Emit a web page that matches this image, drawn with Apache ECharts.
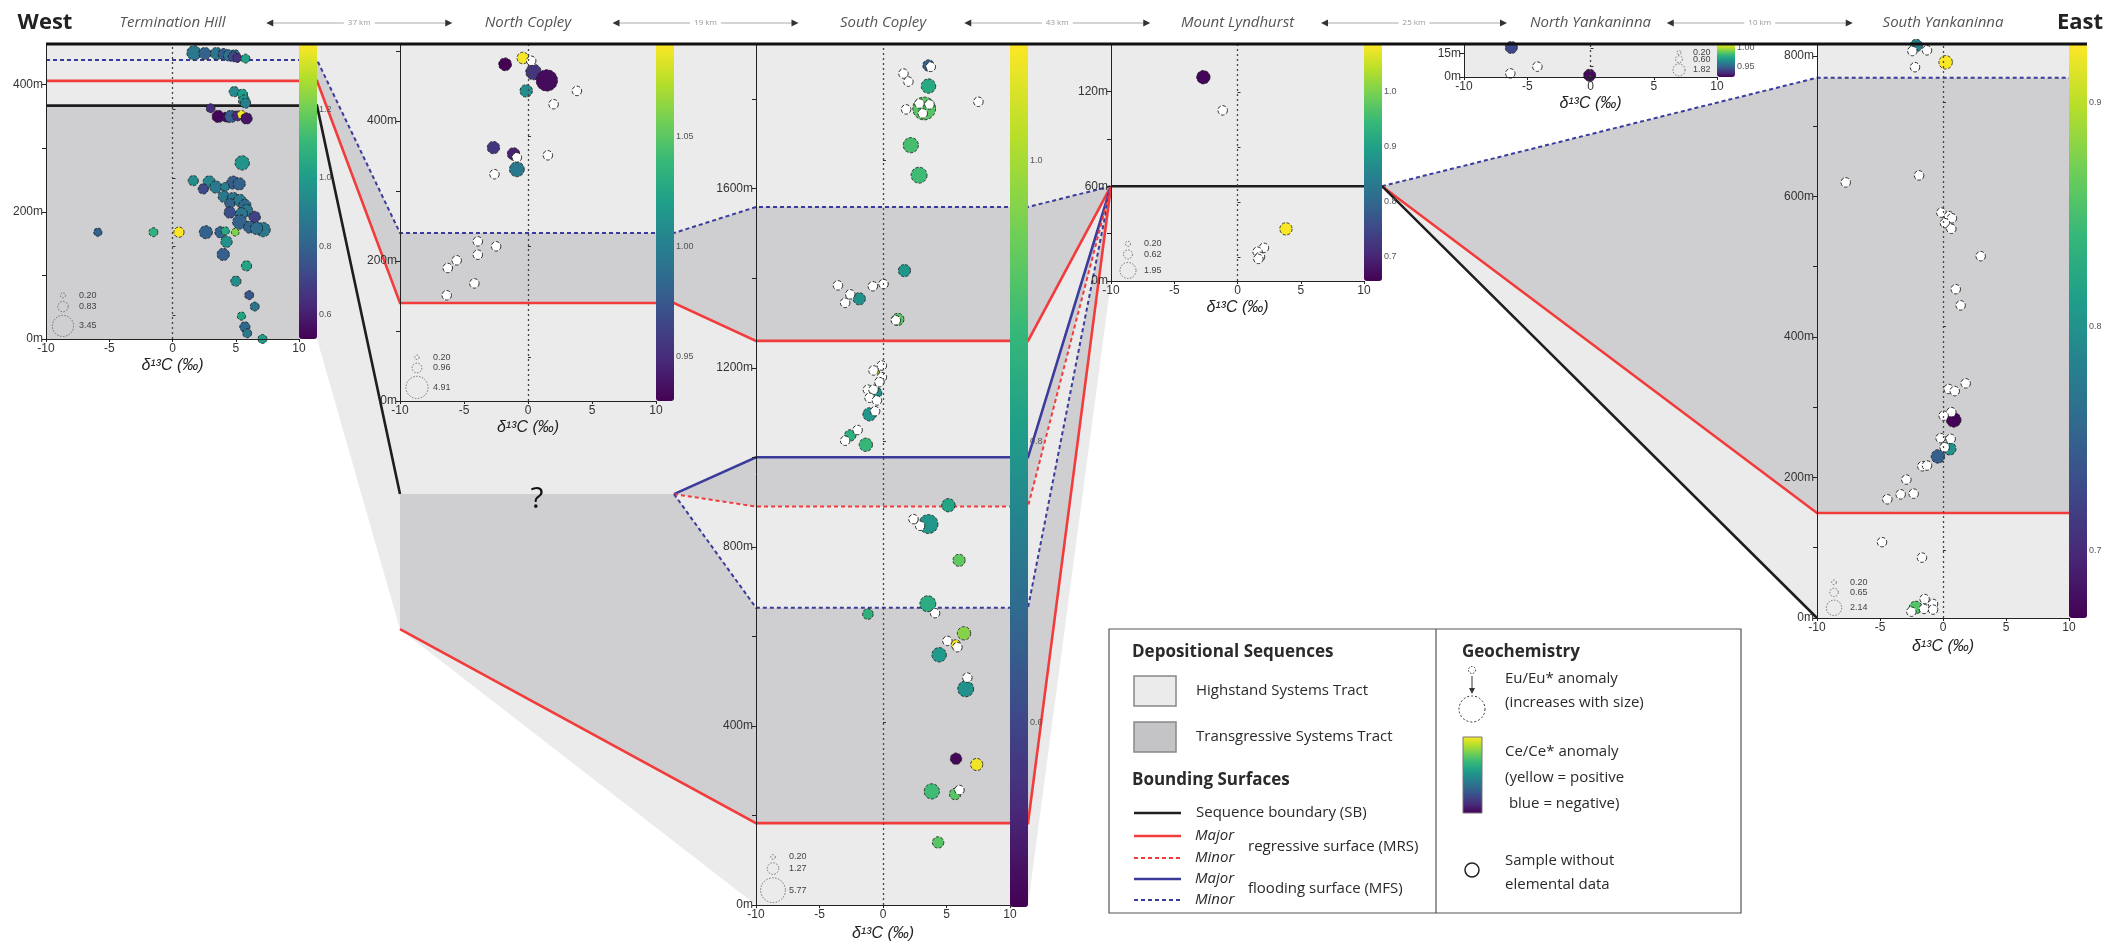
<!DOCTYPE html>
<html>
<head>
<meta charset="utf-8">
<script src="https://cdn.jsdelivr.net/npm/echarts@6/dist/echarts.min.js"></script>
<style>
  html, body { margin: 0; padding: 0; background: #fff; }
  #chart { width: 2116px; height: 947px; }
</style>
</head>
<body>
<div id="chart"></div>
<script>
// ---- sections, west to east ----
const sections = ['Termination Hill', 'North Copley', 'South Copley', 'Mount Lyndhurst', 'North Yankaninna', 'South Yankaninna'];
const distances = ['37 km', '19 km', '43 km', '25 km', '10 km'];

// logged thickness (m) and height-axis ticks / labels per section
const sectionTop = [464, 510, 1923, 150, 21, 817];
const heightTicks = [
  [0, 100, 200, 300, 400],
  [0, 100, 200, 300, 400, 500],
  [0, 200, 400, 600, 800, 1000, 1200, 1400, 1600, 1800],
  [0, 30, 60, 90, 120],
  [0, 15],
  [0, 100, 200, 300, 400, 500, 600, 700, 800]
];
const heightLabels = [[0, 200, 400], [0, 200, 400], [0, 400, 800, 1200, 1600], [0, 60, 120], [0, 15], [0, 200, 400, 600, 800]];

// Ce/Ce* colour-bar range and ticks per section
const ceMin = [0.53, 0.93, 0.47, 0.656, 0.92, 0.67];
const ceMax = [1.39, 1.092, 1.083, 1.087, 1.011, 0.926];
const ceTicks = [[0.6, 0.8, 1.0, 1.2], [0.95, 1.0, 1.05], [0.6, 0.8, 1.0], [0.7, 0.8, 0.9, 1.0], [0.95, 1.0], [0.7, 0.8, 0.9]];
const ceDigits = [1, 2, 1, 1, 2, 1];

// Eu/Eu* size-key values per section
const euKey = [[0.20, 0.83, 3.45], [0.20, 0.96, 4.91], [0.20, 1.27, 5.77], [0.20, 0.62, 1.95], [0.20, 0.60, 1.82], [0.20, 0.65, 2.14]];

// samples with elemental data: [δ13C ‰, height m, Ce/Ce*, Eu/Eu*]
const thSamples = [
  [1.7, 450, 0.87, 1.58], [2.56, 449, 0.80, 1.15], [3.48, 449, 0.87, 1.15], [4.06, 448, 0.78, 1.0], [4.48, 446, 0.86, 1.0],
  [4.93, 447, 0.85, 0.8], [4.8, 444, 0.72, 0.8], [5.11, 442, 0.66, 0.62], [5.77, 441, 1.02, 0.62],
  [4.88, 389, 0.94, 0.8], [5.53, 385, 1.0, 0.8], [5.66, 375, 0.98, 1.0], [5.77, 371, 0.9, 0.8],
  [3.01, 363, 0.64, 0.62], [3.61, 350, 0.54, 1.15], [4.27, 349, 0.55, 0.8], [4.61, 350, 0.79, 1.15], [5.11, 351, 0.63, 0.8],
  [5.45, 353, 1.38, 0.52], [5.85, 347, 0.58, 1.0],
  [5.51, 277, 0.97, 1.58], [1.64, 249, 0.95, 0.8], [2.9, 247, 0.93, 1.15], [2.43, 236, 0.72, 0.8], [3.43, 239, 0.88, 1.15],
  [4.8, 246, 0.78, 1.3], [5.27, 244, 0.8, 1.15], [4.14, 239, 0.9, 0.62], [4.06, 224, 0.88, 1.0], [4.8, 221, 0.86, 1.15],
  [5.32, 218, 0.88, 1.15], [4.53, 213, 0.8, 0.8], [5.72, 210, 0.82, 1.15], [5.85, 202, 0.87, 1.15], [4.53, 199, 0.74, 1.0],
  [5.45, 197, 0.86, 1.15], [6.5, 192, 0.7, 1.0], [5.32, 184, 0.8, 1.58], [6.11, 176, 0.8, 1.15], [7.16, 172, 0.87, 1.58],
  [6.64, 174, 0.84, 1.15],
  [-5.9, 168, 0.8, 0.52], [-1.51, 168, 1.08, 0.62], [0.51, 168, 1.39, 0.8], [2.64, 168, 0.8, 1.3], [3.8, 168, 0.8, 1.0],
  [4.17, 170, 1.05, 0.52], [4.96, 168, 1.22, 0.45],
  [4.27, 153, 0.96, 1.0], [4.01, 133, 0.79, 1.15], [5.85, 115, 1.03, 0.8], [5.01, 91, 0.95, 0.8], [6.06, 69, 0.76, 0.62],
  [6.5, 51, 0.86, 0.62], [5.45, 36, 1.03, 0.52], [5.72, 19, 0.82, 0.8], [5.9, 9, 0.88, 0.62], [7.11, 0, 1.0, 0.62]
];
const ncSamples = [
  [-0.40, 490, 1.09, 1.36], [-1.79, 481, 0.93, 1.65], [0.43, 470, 0.955, 2.41], [1.47, 458, 0.935, 4.56],
  [-0.14, 443, 1.01, 1.55], [-2.70, 362, 0.955, 1.55], [-1.13, 353, 0.945, 1.55], [-0.87, 331, 0.995, 2.19]
];
const scSamples = [
  [3.58, 1875, 0.66, 1.23], [3.58, 1829, 0.84, 1.97], [3.24, 1779, 0.92, 4.9], [2.19, 1697, 0.90, 2.18], [2.84, 1630, 0.89, 2.4],
  [1.69, 1417, 0.79, 1.4], [-1.87, 1354, 0.78, 1.4], [1.17, 1308, 0.92, 1.4], [-0.43, 1190, 1.05, 0.2], [-0.54, 1144, 0.78, 1.23],
  [-1.06, 1096, 0.79, 1.67], [-2.58, 1049, 0.86, 1.23], [-1.35, 1028, 0.88, 1.67],
  [5.15, 893, 0.83, 1.67], [3.58, 851, 0.79, 3.41], [5.99, 770, 0.93, 1.4], [3.53, 673, 0.85, 2.4], [-1.19, 650, 0.86, 1.07],
  [6.38, 607, 0.97, 1.67], [5.73, 582, 1.07, 0.85], [4.42, 559, 0.80, 1.97], [6.51, 483, 0.78, 2.4], [5.75, 327, 0.48, 1.23],
  [7.38, 314, 1.07, 1.4], [3.84, 254, 0.89, 2.18], [5.68, 248, 0.92, 1.23], [4.34, 140, 0.92, 1.23]
];
const mlSamples = [[-2.70, 129, 0.66, 1.36], [3.83, 33, 1.085, 1.14]];
const nySamples = [[-6.26, 18.8, 0.94, 1.8], [-0.07, 1.1, 0.922, 1.8]];
const sySamples = [
  [-2.12, 815, 0.785, 1.38], [0.21, 791, 0.925, 1.65], [0.85, 282, 0.672, 1.95],
  [0.53, 241, 0.80, 1.46], [-0.40, 230, 0.747, 1.65], [-2.17, 15, 0.855, 1.46]
];

// samples without elemental data: [δ13C ‰, height m]
const thBlank = [];
const ncBlank = [
  [0.25, 486], [3.82, 443], [2.0, 424], [-0.87, 348], [1.55, 351], [-2.62, 324], [-3.92, 228], [-2.49, 221],
  [-5.57, 201], [-3.92, 209], [-6.27, 190], [-4.19, 168], [-6.35, 151]
];
const scBlank = [
  [3.76, 1872], [1.61, 1857], [2.0, 1839], [7.51, 1794], [2.87, 1790], [3.66, 1788], [1.82, 1777], [3.13, 1768],
  [-3.55, 1384], [-0.80, 1382], [0.04, 1387], [-2.58, 1364], [-2.98, 1345], [1.01, 1306], [-0.09, 1205], [-0.75, 1194],
  [-0.09, 1179], [-0.28, 1168], [-1.19, 1151], [-0.75, 1151], [-1.06, 1133], [-0.48, 1127], [-0.62, 1103], [-2.0, 1061],
  [-2.98, 1037], [2.40, 862], [2.92, 847], [4.10, 652], [5.07, 590], [5.86, 576], [6.64, 508], [6.02, 257]
];
const mlBlank = [[-1.17, 108], [2.09, 21], [1.59, 18.5], [1.78, 15.3], [1.65, 14]];
const nyBlank = [[-6.34, 2.3], [-4.2, 6.6]];
const syBlank = [
  [-2.43, 807], [-1.27, 808], [-2.22, 784], [-1.90, 630], [-7.72, 620], [-0.13, 577], [0.48, 572], [0.71, 569],
  [0.16, 562], [0.66, 554], [2.99, 515], [1.01, 468], [1.40, 445], [1.80, 334], [0.45, 326], [0.93, 323],
  [0.66, 293], [0.05, 288], [-0.19, 256], [0.61, 255], [0.13, 243], [-1.64, 216], [-1.27, 217], [-2.91, 197],
  [-3.36, 176], [-2.33, 177], [-4.42, 169], [-4.84, 108], [-1.67, 86], [-1.46, 27], [-0.79, 20], [-1.51, 13],
  [-0.79, 12], [-2.51, 9]
];

// systems tracts logged in each section: [base m, top m, 'H' highstand | 'T' transgressive]
const tracts = [
  [[0, 367, 'T'], [367, 464, 'H']],
  [[0, 140, 'H'], [140, 240, 'T'], [240, 510, 'H']],
  [[0, 183, 'H'], [183, 664, 'T'], [664, 890, 'H'], [890, 1000, 'T'], [1000, 1260, 'H'], [1260, 1559, 'T'], [1559, 1923, 'H']],
  [[0, 150, 'H']],
  [[0, 21, 'H']],
  [[0, 149.5, 'H'], [149.5, 769, 'T'], [769, 817, 'H']]
];

// correlation between sections: [section, edge ('L' axis side, 'R' colour-bar side), height m]
const correlationFills = [
  ['H', [[0, 'R', 464], [2, 'L', 1923], [2, 'L', 0], [1, 'L', -326], [0, 'R', 0]]],
  ['T', [[0, 'R', 439], [1, 'L', 240], [1, 'L', 140], [0, 'R', 406]]],
  ['T', [[1, 'R', 240], [2, 'L', 1559], [2, 'L', 1260], [1, 'R', 140]]],
  ['T', [[1, 'L', -133], [1, 'R', -133], [2, 'L', 664], [2, 'L', 183], [1, 'L', -326]]],
  ['T', [[1, 'R', -133], [2, 'L', 1000], [2, 'L', 890]]],
  ['H', [[2, 'R', 1923], [3, 'L', 150], [3, 'L', 0], [2, 'R', 0]]],
  ['T', [[2, 'R', 1559], [3, 'L', 60], [2, 'R', 1260]]],
  ['T', [[2, 'R', 1000], [3, 'L', 60], [2, 'R', 890]]],
  ['T', [[2, 'R', 664], [3, 'L', 60], [2, 'R', 183]]],
  ['T', [[3, 'R', 60], [5, 'L', 769], [5, 'L', 149.5]]],
  ['H', [[3, 'R', 60], [5, 'L', 149.5], [5, 'L', 0]]]
];

// bounding surfaces traced across the sections
const surfaces = [
  ['mfsMinor', [[0, 'L', 439], [0, 'R', 439], [1, 'L', 240], [1, 'R', 240], [2, 'L', 1559], [2, 'R', 1559], [3, 'L', 60]]],
  ['mfsMinor', [[3, 'R', 60], [5, 'L', 769], [5, 'R', 769]]],
  ['mrsMajor', [[0, 'L', 406], [0, 'R', 406], [1, 'L', 140], [1, 'R', 140], [2, 'L', 1260], [2, 'R', 1260], [3, 'L', 60]]],
  ['mrsMajor', [[3, 'R', 60], [5, 'L', 149.5], [5, 'R', 149.5]]],
  ['sb', [[0, 'L', 367], [0, 'R', 367], [1, 'L', -133]]],
  ['sb', [[3, 'L', 60], [3, 'R', 60], [5, 'L', 0]]],
  ['mfsMajor', [[1, 'R', -133], [2, 'L', 1000], [2, 'R', 1000], [3, 'L', 60]]],
  ['mrsMinor', [[1, 'R', -133], [2, 'L', 890], [2, 'R', 890], [3, 'L', 60]]],
  ['mfsMinor', [[1, 'R', -133], [2, 'L', 664], [2, 'R', 664], [3, 'L', 60]]],
  ['mrsMajor', [[1, 'L', -326], [2, 'L', 183], [2, 'R', 183], [3, 'L', 60]]]
];

// ---- styling / layout ----
const viridis = ['#440154', '#482878', '#3e4989', '#31688e', '#26828e', '#1f9e89', '#35b779', '#6ece58', '#b5de2b', '#fde725'];
const panels = [
  { left: 46, top: 44, width: 253, height: 295 },
  { left: 400, top: 44, width: 256, height: 357 },
  { left: 756, top: 44, width: 254, height: 863 },
  { left: 1111, top: 44, width: 253, height: 237 },
  { left: 1464, top: 44, width: 253, height: 33 },
  { left: 1817, top: 44, width: 252, height: 574 }
];
const BAR = 18;
// symbol diameter (px) per sqrt(Eu/Eu*)
const symbolScale = [11.4, 10.0, 10.3, 11.5, 9.0, 10.5];
const BLANK_SIZE = 9.5;
const toneFill = { H: '#ebebeb', T: '#cfcfd1' };
const surfaceStyle = {
  sb: { stroke: '#1e1e1e', lineWidth: 2.6 },
  mrsMajor: { stroke: '#f23c3c', lineWidth: 2.6 },
  mrsMinor: { stroke: '#f23c3c', lineWidth: 2, lineDash: [4, 3] },
  mfsMajor: { stroke: '#3b3b9b', lineWidth: 2.6 },
  mfsMinor: { stroke: '#3b3b9b', lineWidth: 2, lineDash: [4, 3] }
};
const AXIS_FONT = 'Liberation Sans';

const coloured = [thSamples, ncSamples, scSamples, mlSamples, nySamples, sySamples];
const blank = [thBlank, ncBlank, scBlank, mlBlank, nyBlank, syBlank];

const grid = [], xAxis = [], yAxis = [], series = [], visualMap = [];

sections.forEach((name, s) => {
  const p = panels[s];
  grid.push({ left: p.left, top: p.top, width: p.width, height: p.height, containLabel: false });
  xAxis.push({
    gridIndex: s, type: 'value', min: -10, max: 10, interval: 5, z: 5,
    axisLine: { show: true, onZero: false, lineStyle: { color: '#222', width: 1 } },
    axisTick: { show: true, length: 3, lineStyle: { color: '#222' } },
    axisLabel: { fontSize: 12, color: '#333', margin: 4, fontFamily: AXIS_FONT },
    splitLine: { show: false },
    name: 'δ¹³C (‰)', nameLocation: 'middle', nameGap: 19,
    nameTextStyle: { fontSize: 16, fontStyle: 'italic', color: '#222', fontFamily: AXIS_FONT }
  });
  yAxis.push({
    gridIndex: s, type: 'value', min: 0, max: sectionTop[s], z: 5,
    axisLine: { show: true, onZero: false, lineStyle: { color: '#222', width: 1 } },
    axisTick: { show: true, length: 4, customValues: heightTicks[s], lineStyle: { color: '#222' } },
    axisLabel: { customValues: heightLabels[s], formatter: v => v + 'm', fontSize: 12, color: '#333', margin: 3, fontFamily: AXIS_FONT },
    splitLine: { show: false }
  });
  // x = 0 reference
  series.push({
    type: 'scatter', xAxisIndex: s, yAxisIndex: s, data: [], z: 2, silent: true,
    markLine: {
      silent: true, symbol: 'none', label: { show: false }, animation: false,
      lineStyle: { type: [2, 3], color: '#444', width: 1.3 },
      data: [{ xAxis: 0 }]
    }
  });
  series.push({
    type: 'scatter', name: name, xAxisIndex: s, yAxisIndex: s, z: 3, data: coloured[s], animation: false,
    symbolSize: v => symbolScale[s] * Math.sqrt(v[3]),
    itemStyle: { borderColor: '#1a1a1a', borderWidth: 0.8, borderType: 'dashed', opacity: 1 }
  });
  series.push({
    type: 'scatter', xAxisIndex: s, yAxisIndex: s, z: 4, data: blank[s], symbolSize: BLANK_SIZE, animation: false,
    itemStyle: { color: '#ffffff', borderColor: '#1a1a1a', borderWidth: 0.9, borderType: 'dashed', opacity: 1 }
  });
  visualMap.push({
    type: 'continuous', seriesIndex: 3 * s + 1, dimension: 2, min: ceMin[s], max: ceMax[s],
    calculable: false, hoverLink: false, orient: 'vertical', padding: 0, z: 6,
    left: p.left + p.width, top: p.top, itemWidth: BAR, itemHeight: p.height,
    inRange: { color: viridis }, text: null, showLabel: false
  });
});
// colour-bar scales
sections.forEach((name, s) => {
  yAxis.push({
    gridIndex: s, type: 'value', position: 'right', offset: BAR, min: ceMin[s], max: ceMax[s], z: 7,
    axisLine: { show: false },
    axisTick: { show: true, length: 3, customValues: ceTicks[s], lineStyle: { color: '#333' } },
    axisLabel: { customValues: ceTicks[s], formatter: v => v.toFixed(ceDigits[s]), fontSize: 9, color: '#555', margin: 2, fontFamily: AXIS_FONT },
    splitLine: { show: false }
  });
});

const chart = echarts.init(document.getElementById('chart'));
chart.setOption({
  animation: false,
  backgroundColor: '#ffffff',
  grid, xAxis, yAxis, series, visualMap
});

// ---- pixel helpers from each section's own scales ----
function P(s, edge, h) {
  const p = chart.convertToPixel({ xAxisIndex: s, yAxisIndex: s }, [edge === 'L' ? -10 : 10, h]);
  if (edge === 'R') p[0] += BAR;
  return p;
}
function pix(s, x, h) { return chart.convertToPixel({ xAxisIndex: s, yAxisIndex: s }, [x, h]); }

const els = [];

// correlation fills
correlationFills.forEach(([tone, pts]) => {
  els.push({ type: 'polygon', silent: true, z: 0, shape: { points: pts.map(a => P(a[0], a[1], a[2])) }, style: { fill: toneFill[tone] } });
});
// systems tracts inside each section
tracts.forEach((list, s) => {
  list.forEach(([lo, hi, tone]) => {
    const a = pix(s, -10, hi), b = pix(s, 10, lo);
    els.push({ type: 'rect', silent: true, z: 0, shape: { x: a[0], y: a[1], width: b[0] - a[0], height: b[1] - a[1] }, style: { fill: toneFill[tone] } });
  });
});
// bounding surfaces
surfaces.forEach(([kind, pts]) => {
  const st = surfaceStyle[kind];
  els.push({
    type: 'polyline', silent: true, z: 1, shape: { points: pts.map(a => P(a[0], a[1], a[2])) },
    style: { stroke: st.stroke, lineWidth: st.lineWidth, lineDash: st.lineDash || null, fill: null }
  });
});
// datum line along the top of the sections
{
  const a = pix(0, -10, sectionTop[0]), b = P(5, 'R', sectionTop[5]);
  els.push({ type: 'line', silent: true, z: 8, shape: { x1: a[0], y1: a[1], x2: b[0], y2: a[1] }, style: { stroke: '#111', lineWidth: 3 } });
}
// unknown interval below North Copley
{
  const q = pix(1, 0.7, -140);
  els.push({ type: 'text', silent: true, z: 8, style: { text: '?', x: q[0], y: q[1], textAlign: 'center', textVerticalAlign: 'middle', font: '30px "Open Sans"', fill: '#111' } });
}

// Eu/Eu* size keys inside each panel
euKey.forEach((vals, s) => {
  const r = vals.map(v => symbolScale[s] * Math.sqrt(v) / 2);
  const origin = pix(s, -10, 0);
  const gap = s === 4 ? 1.2 : 3.5;
  let cx = origin[0] + 17, labelX = cx + 16;
  if (s === 4) { const rp = pix(s, 10, 0); cx = rp[0] - 38; labelX = cx + 14; }
  const cy = [];
  cy[2] = origin[1] - r[2] - (s === 4 ? 1 : 2.5);
  cy[1] = cy[2] - r[2] - r[1] - gap;
  cy[0] = cy[1] - r[1] - r[0] - gap;
  vals.forEach((v, k) => {
    els.push({ type: 'circle', silent: true, z: 9, shape: { cx: cx, cy: cy[k], r: r[k] }, style: { fill: 'rgba(0,0,0,0)', stroke: '#555', lineWidth: 0.8, lineDash: [1.5, 1.5] } });
    els.push({ type: 'text', silent: true, z: 9, style: { text: v.toFixed(2), x: labelX, y: cy[k], textAlign: 'left', textVerticalAlign: 'middle', font: '9px "Liberation Sans"', fill: '#444' } });
  });
});

// header: West / East, section names and spacing arrows
const centres = sections.map((n, s) => pix(s, 0, 0)[0]);
const arrowShift = [9, 0, -3, 0, -7];
const HEAD_Y = 23;
els.push({ type: 'text', silent: true, z: 10, style: { text: 'West', x: 45, y: HEAD_Y, textAlign: 'center', textVerticalAlign: 'middle', font: 'bold 22px "Open Sans"', fill: '#222' } });
els.push({ type: 'text', silent: true, z: 10, style: { text: 'East', x: 2080, y: HEAD_Y, textAlign: 'center', textVerticalAlign: 'middle', font: 'bold 22px "Open Sans"', fill: '#222' } });
sections.forEach((n, s) => {
  els.push({ type: 'text', silent: true, z: 10, style: { text: n, x: centres[s], y: HEAD_Y, textAlign: 'center', textVerticalAlign: 'middle', font: 'italic 15px "Open Sans"', fill: '#555' } });
});
distances.forEach((d, i) => {
  const mid = (centres[i] + centres[i + 1]) / 2 + arrowShift[i], x1 = mid - 93, x2 = mid + 93;
  els.push({ type: 'line', silent: true, z: 10, shape: { x1: x1 + 5, y1: HEAD_Y, x2: x2 - 5, y2: HEAD_Y }, style: { stroke: '#aaa', lineWidth: 1 } });
  els.push({ type: 'polygon', silent: true, z: 10, shape: { points: [[x1, HEAD_Y], [x1 + 7, HEAD_Y - 3.5], [x1 + 7, HEAD_Y + 3.5]] }, style: { fill: '#333' } });
  els.push({ type: 'polygon', silent: true, z: 10, shape: { points: [[x2, HEAD_Y], [x2 - 7, HEAD_Y - 3.5], [x2 - 7, HEAD_Y + 3.5]] }, style: { fill: '#333' } });
  els.push({ type: 'text', silent: true, z: 11, style: { text: d, x: mid, y: HEAD_Y, textAlign: 'center', textVerticalAlign: 'middle', font: '8px "Open Sans"', fill: '#999', backgroundColor: '#fff', padding: [1, 4] } });
});

// ---- key ----
const K = { l: 1109, t: 629, r: 1741, b: 913, mid: 1436 };
const txt = (t, x, y, font) => ({ type: 'text', silent: true, z: 12, style: { text: t, x: x, y: y, textAlign: 'left', textVerticalAlign: 'middle', font: font, fill: '#2a2a2a' } });
const F = '15px "Open Sans"', FB = 'bold 17px "Open Sans"', FI = 'italic 15px "Open Sans"';
els.push({ type: 'rect', silent: true, z: 11, shape: { x: K.l, y: K.t, width: K.r - K.l, height: K.b - K.t }, style: { fill: '#fff', stroke: '#555', lineWidth: 1.2 } });
els.push({ type: 'line', silent: true, z: 12, shape: { x1: K.mid, y1: K.t, x2: K.mid, y2: K.b }, style: { stroke: '#555', lineWidth: 1.2 } });
els.push(txt('Depositional Sequences', 1132, 652, FB));
els.push({ type: 'rect', silent: true, z: 12, shape: { x: 1134, y: 676, width: 42, height: 30 }, style: { fill: '#ebebeb', stroke: '#888', lineWidth: 1.5 } });
els.push(txt('Highstand Systems Tract', 1196, 691, F));
els.push({ type: 'rect', silent: true, z: 12, shape: { x: 1134, y: 722, width: 42, height: 30 }, style: { fill: '#c4c4c6', stroke: '#888', lineWidth: 1.5 } });
els.push(txt('Transgressive Systems Tract', 1196, 737, F));
els.push(txt('Bounding Surfaces', 1132, 780, FB));
const keyLine = (y, kind) => {
  const st = surfaceStyle[kind];
  els.push({ type: 'line', silent: true, z: 12, shape: { x1: 1134, y1: y, x2: 1181, y2: y }, style: { stroke: st.stroke, lineWidth: st.lineWidth, lineDash: st.lineDash || null } });
};
keyLine(813, 'sb'); els.push(txt('Sequence boundary (SB)', 1196, 813, F));
keyLine(836, 'mrsMajor'); els.push(txt('Major', 1195, 836, FI));
keyLine(858, 'mrsMinor'); els.push(txt('Minor', 1195, 858, FI));
els.push(txt('regressive surface (MRS)', 1248, 847, F));
keyLine(879, 'mfsMajor'); els.push(txt('Major', 1195, 879, FI));
keyLine(900, 'mfsMinor'); els.push(txt('Minor', 1195, 900, FI));
els.push(txt('flooding surface (MFS)', 1248, 889, F));

els.push(txt('Geochemistry', 1462, 652, FB));
els.push({ type: 'circle', silent: true, z: 12, shape: { cx: 1472, cy: 670, r: 3.5 }, style: { fill: 'rgba(0,0,0,0)', stroke: '#333', lineWidth: 1, lineDash: [1.5, 1.5] } });
els.push({ type: 'line', silent: true, z: 12, shape: { x1: 1472, y1: 676, x2: 1472, y2: 690 }, style: { stroke: '#333', lineWidth: 1 } });
els.push({ type: 'polygon', silent: true, z: 12, shape: { points: [[1472, 694], [1469, 688], [1475, 688]] }, style: { fill: '#333' } });
els.push({ type: 'circle', silent: true, z: 12, shape: { cx: 1472, cy: 709, r: 13 }, style: { fill: 'rgba(0,0,0,0)', stroke: '#333', lineWidth: 1, lineDash: [2, 2] } });
els.push(txt('Eu/Eu* anomaly', 1505, 679, F));
els.push(txt('(increases with size)', 1505, 703, F));
els.push({
  type: 'rect', silent: true, z: 12, shape: { x: 1463, y: 737, width: 19, height: 76 },
  style: {
    stroke: '#777', lineWidth: 1,
    fill: new echarts.graphic.LinearGradient(0, 0, 0, 1, viridis.slice().reverse().map((c, i, arr) => ({ offset: i / (arr.length - 1), color: c })))
  }
});
els.push(txt('Ce/Ce* anomaly', 1505, 752, F));
els.push(txt('(yellow = positive', 1505, 778, F));
els.push(txt(' blue = negative)', 1505, 804, F));
els.push({ type: 'circle', silent: true, z: 12, shape: { cx: 1472, cy: 870, r: 7 }, style: { fill: '#fff', stroke: '#222', lineWidth: 1.5 } });
els.push(txt('Sample without', 1505, 861, F));
els.push(txt('elemental data', 1505, 885, F));

chart.setOption({ graphic: { elements: els } });
</script>
</body>
</html>
